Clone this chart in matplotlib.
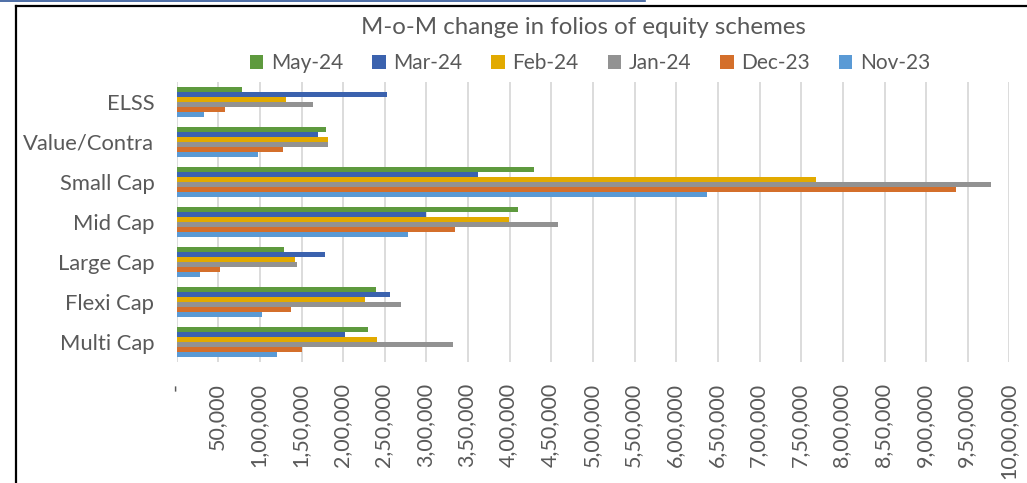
import matplotlib
matplotlib.use("Agg")
import matplotlib.pyplot as plt
import matplotlib.transforms as mtrans
from matplotlib.lines import Line2D
from matplotlib.patches import Patch

plt.rcParams['font.family'] = ['Lato', 'DejaVu Sans']

# Categories, bottom to top as drawn
categories = ['Multi Cap', 'Flexi Cap', 'Large Cap', 'Mid Cap', 'Small Cap', 'Value/Contra', 'ELSS']

# Series values (change in folios), same order as categories
may_24 = [229400, 239000, 129300, 409500, 429400, 179400, 78100]
mar_24 = [202200, 255800, 178500, 299000, 362200, 170200, 252600]
feb_24 = [240200, 226200, 141800, 399000, 767200, 181400, 131700]
jan_24 = [332200, 269800, 144200, 457500, 977300, 181400, 164100]
dec_23 = [150900, 137300, 52100, 334200, 935300, 127400, 58500]
nov_23 = [120900, 102200, 27700, 278200, 636400, 97300, 32500]

series_names = ['May-24', 'Mar-24', 'Feb-24', 'Jan-24', 'Dec-23', 'Nov-23']
series_values = [may_24, mar_24, feb_24, jan_24, dec_23, nov_23]
colors = ['#5E9A3E', '#3B62AE', '#E2AA00', '#929292', '#D46F2B', '#5A9AD5']

x_ticks = list(range(0, 1000001, 50000))


def indian(v):
    # Indian digit grouping, zero shown as a dash like Excel accounting format
    if v == 0:
        return '-'
    s = str(int(v))
    if len(s) <= 3:
        return s
    head, tail = s[:-3], s[-3:]
    groups = []
    while len(head) > 2:
        groups.insert(0, head[-2:])
        head = head[:-2]
    if head:
        groups.insert(0, head)
    return ','.join(groups) + ',' + tail


text_color = '#595959'
W, H = 1027, 483
fig = plt.figure(figsize=(W / 100, H / 100), dpi=100)
ax = fig.add_axes([176.6 / W, 1 - 362 / H, (1009.5 - 176.6) / W, 280 / H])

h = 0.125
ypos = range(len(categories))
for i, (name, vals, c) in enumerate(zip(series_names, series_values, colors)):
    off = (2.5 - i) * h
    ax.barh([y + off for y in ypos], vals, height=h, color=c, label=name, zorder=3)

ax.set_xlim(0, 1000000)
ax.set_ylim(-0.5, len(categories) - 0.5)
ax.set_xticks(x_ticks)
ax.set_xticklabels([indian(v) for v in x_ticks], rotation=90, va='top', ha='center')
ax.set_yticks(list(ypos))
ax.set_yticklabels(categories)
ax.tick_params(axis='x', length=0, pad=15, labelsize=15.5, labelcolor=text_color)
ax.tick_params(axis='y', length=0, pad=16, labelsize=15.8, labelcolor=text_color)
ax.grid(axis='x', color='#D9D9D9', linewidth=1.3, zorder=0)
for s in ax.spines.values():
    s.set_visible(False)

# rotated labels: nudge left so the glyphs sit on the gridlines
shift = mtrans.ScaledTranslation(-1.5 / 100, 0, fig.dpi_scale_trans)
for lab in ax.get_xticklabels():
    lab.set_transform(lab.get_transform() + shift)

fig.text(583 / W, 1 - 28 / H, 'M-o-M change in folios of equity schemes',
         ha='center', va='center', fontsize=17.3, color=text_color)

handles = [Patch(facecolor=c, edgecolor='none') for c in colors]
fig.legend(handles, series_names, loc='center', bbox_to_anchor=(590 / W, 1 - 63 / H),
           ncol=6, frameon=False, fontsize=15, labelcolor=text_color,
           handlelength=0.65, handleheight=0.65, handletextpad=0.35, columnspacing=1.4)

# chart frame and top link line
fig.add_artist(Line2D([16 / W, 1], [1 - 6 / H, 1 - 6 / H], color='black', linewidth=1.6))
fig.add_artist(Line2D([16 / W, 16 / W], [0, 1 - 6 / H], color='black', linewidth=1.6))
fig.add_artist(Line2D([0, 645 / W], [1 - 0.8 / H, 1 - 0.8 / H], color='#2F5597', linewidth=1.2))

fig.savefig('out.png', dpi=100)
